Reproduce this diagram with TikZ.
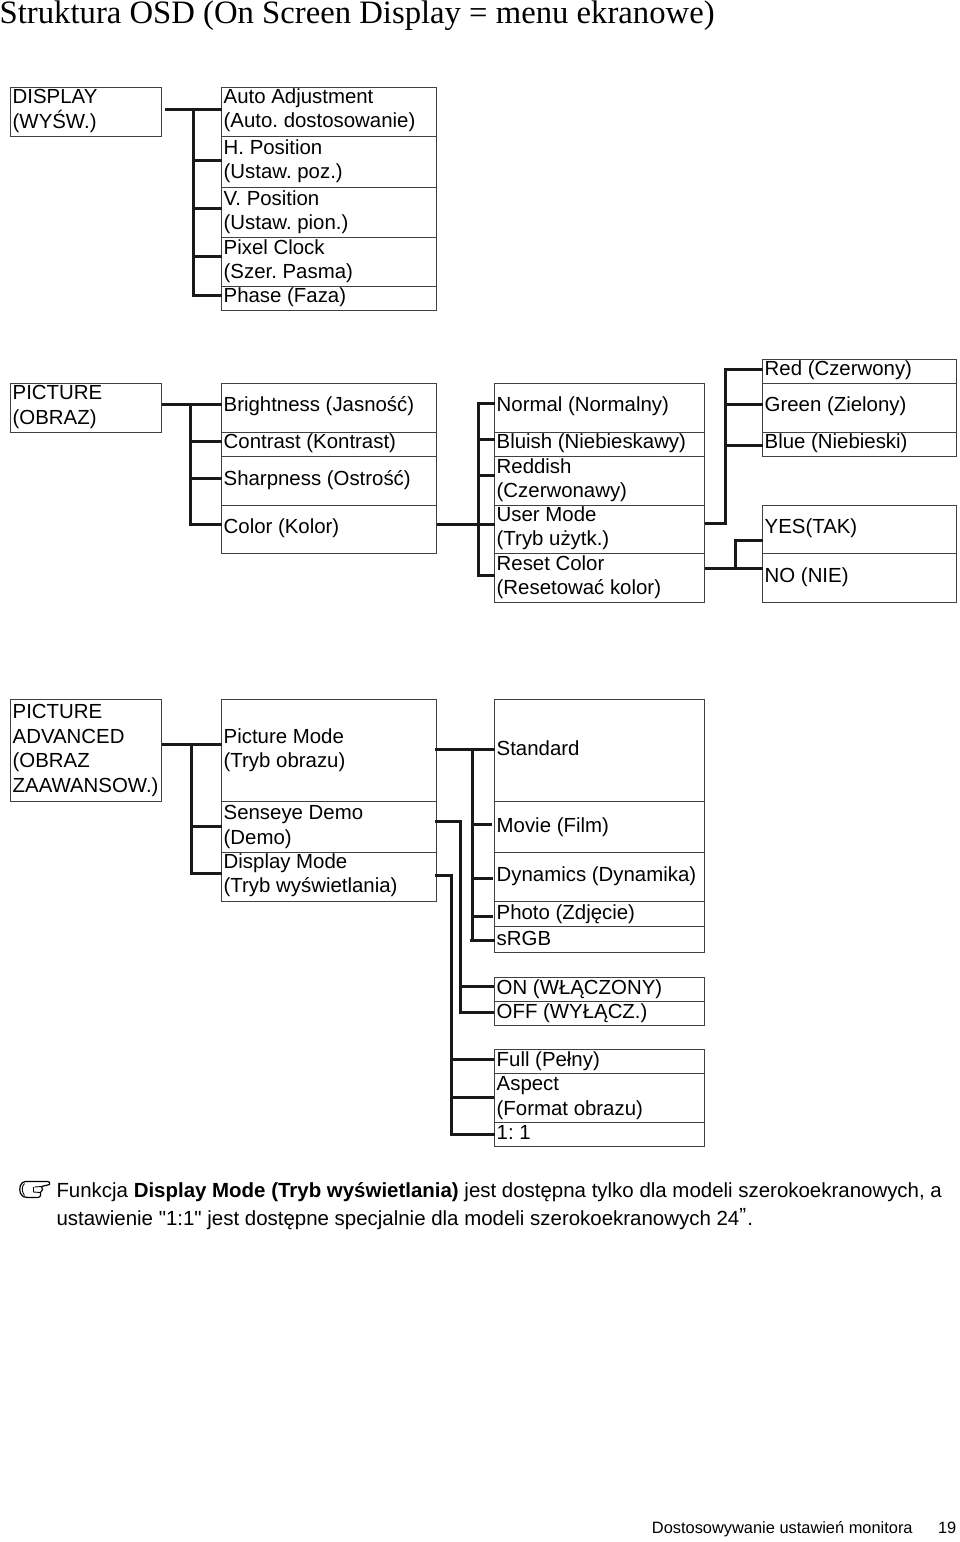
\documentclass[tikz,border=0pt]{standalone}
\usepackage{fontspec}
\setmainfont{Liberation Sans}
\newfontfamily\titlefont{Liberation Serif}
\newfontfamily\plainfont{Liberation Sans}
\frenchspacing
\tikzset{x=1pt,y=-1pt,
 lbl/.style={anchor=west,inner sep=0pt,outer sep=0pt,align=left,font=\fontsize{20.4}{24.4}\selectfont,text=black},
 conn/.style={line width=2.2pt,black!90}}
\newcommand{\cellbox}[7]{% name x1 y1 x2 y2 text shift
 \path[draw=black!75,line width=1pt] (#2,#3) rectangle (#4,#5);
 \node[lbl] (#1) at ({#2+2.2},{(#3+#5)/2+#7}) {#6};}
\begin{document}
\begin{tikzpicture}
\useasboundingbox (0,0) rectangle (960,1542);
\begin{scope}[shift={(-0.5,-0.5)}]
\node[anchor=west,inner sep=0pt,font=\titlefont\fontsize{32.7}{36}\selectfont] (title) at (0,16.5) {Struktura OSD (On Screen Display = menu ekranowe)};
% display
\cellbox{d}{11}{88}{162}{137}{DISPLAY\\(WYŚW.)}{-1}
\cellbox{da}{222}{88}{437}{137}{Auto Adjustment\\(Auto. dostosowanie)}{-2}
\cellbox{db}{222}{137}{437}{187.5}{H. Position\\(Ustaw. poz.)}{-0.5}
\cellbox{dc}{222}{187.5}{437}{238}{V. Position\\(Ustaw. pion.)}{0}
\cellbox{dd}{222}{238}{437}{287}{Pixel Clock\\(Szer. Pasma)}{-1}
\cellbox{de}{222}{287}{437}{311}{Phase (Faza)}{-1}
\draw[conn] (165,110) -- (222,110);
\draw[conn] (194,110) -- (194,296) -- (222,296);
\foreach \y in {161,209,257} \draw[conn] (194,\y) -- (222,\y);
% picture
\cellbox{p}{11}{384}{162}{433}{PICTURE\\(OBRAZ)}{-1}
\cellbox{pa}{222}{384}{437}{433}{Brightness (Jasność)}{-2}
\cellbox{pb}{222}{433}{437}{457}{Contrast (Kontrast)}{-1}
\cellbox{pc}{222}{457}{437}{506}{Sharpness (Ostrość)}{-1}
\cellbox{pd}{222}{506}{437}{554}{Color (Kolor)}{-1}
\draw[conn] (162,405) -- (222,405);
\draw[conn] (191,405) -- (191,525) -- (222,525);
\foreach \y in {442,479} \draw[conn] (191,\y) -- (222,\y);
\cellbox{qa}{495}{384}{705}{433}{Normal (Normalny)}{-2}
\cellbox{qb}{495}{433}{705}{457}{Bluish (Niebieskawy)}{-1}
\cellbox{qc}{495}{457}{705}{506}{Reddish\\(Czerwonawy)}{-1}
\cellbox{qd}{495}{506}{705}{554}{User Mode\\(Tryb użytk.)}{-1}
\cellbox{qe}{495}{554}{705}{603}{Reset Color\\(Resetować kolor)}{-1}
\draw[conn] (437,525) -- (495,525);
\draw[conn] (495,404) -- (479,404) -- (479,576) -- (495,576);
\foreach \y in {440,476} \draw[conn] (479,\y) -- (495,\y);
\cellbox{ra}{763}{360}{957}{384}{Red (Czerwony)}{-1}
\cellbox{rb}{763}{384}{957}{433}{Green (Zielony)}{-2}
\cellbox{rc}{763}{433}{957}{457}{Blue (Niebieski)}{-1}
\cellbox{sa}{763}{506}{957}{554}{YES(TAK)}{-1}
\cellbox{sb}{763}{554}{957}{603}{NO (NIE)}{-1}
\draw[conn] (705,524) -- (726,524) -- (726,370) -- (763,370);
\foreach \y in {405,446} \draw[conn] (726,\y) -- (763,\y);
\draw[conn] (705,569) -- (763,569);
\draw[conn] (736,569) -- (736,541) -- (763,541);
% advanced
\cellbox{a}{11}{700}{162}{802}{PICTURE\\ADVANCED\\(OBRAZ\\ZAAWANSOW.)}{0}
\cellbox{aa}{222}{700}{437}{802}{Picture Mode\\(Tryb obrazu)}{-0.5}
\cellbox{ab}{222}{802}{437}{853}{Senseye Demo\\(Demo)}{0}
\cellbox{ac}{222}{853}{437}{902}{Display Mode\\(Tryb wyświetlania)}{-2}
\cellbox{ba}{495}{700}{705}{802}{Standard}{-2}
\cellbox{bb}{495}{802}{705}{853}{Movie (Film)}{0}
\cellbox{bc}{495}{853}{705}{902}{Dynamics (Dynamika)}{-1}
\cellbox{bd}{495}{902}{705}{927}{Photo (Zdjęcie)}{0}
\cellbox{be}{495}{927}{705}{953}{sRGB}{-1}
\cellbox{ca}{495}{978}{705}{1002}{ON (WŁĄCZONY)}{0}
\cellbox{cb}{495}{1002}{705}{1026}{OFF (WYŁĄCZ.)}{0}
\cellbox{ea}{495}{1050}{705}{1074}{Full (Pełny)}{0}
\cellbox{eb}{495}{1074}{705}{1123}{Aspect\\(Format obrazu)}{0}
\cellbox{ec}{495}{1123}{705}{1147}{1: 1}{-2}
\draw[conn] (162,745) -- (222,745);
\draw[conn] (192,745) -- (192,874) -- (222,874);
\draw[conn] (192,827) -- (222,827);
\draw[conn] (435,750) -- (495,750);
\draw[conn] (473,750) -- (473,941);
\draw[conn] (470,941) -- (495,941);
\draw[conn] (471,825) -- (492,825);
\foreach \y in {879,917} \draw[conn] (473,\y) -- (493,\y);
\draw[conn] (435,822) -- (461,822) -- (461,1013) -- (494,1013);
\draw[conn] (461,987) -- (494,987);
\draw[conn] (435,876) -- (452,876) -- (452,1135) -- (495,1135);
\foreach \y in {1060,1098} \draw[conn] (452,\y) -- (494,\y);
% note
\node[lbl,anchor=west,font=\fontsize{20.45}{28}\selectfont] (note) at (57,1206.5) {Funkcja \textbf{Display Mode (Tryb wyświetlania)} jest dostępna tylko dla modeli szerokoekranowych, a\\ustawienie {\plainfont "1:1"} jest dostępne specjalnie dla modeli szerokoekranowych 24\raisebox{0.3ex}{”}\kern1pt.};
\draw[line width=1.2pt,line join=round] (26,1182) .. controls (21,1182) and (19,1189) .. (21,1194) .. controls (22,1197) and (25,1198) .. (28,1198) -- (38,1198) .. controls (41,1198) and (42,1195) .. (41,1193) -- (43,1190) -- (42,1187) -- (50,1185) .. controls (51,1183) and (50,1182) .. (48,1182) -- cycle;
\draw[line width=0.9pt] (25,1184) .. controls (22,1187) and (22,1192) .. (25,1196);
\draw[line width=0.9pt] (35,1187.5) -- (42,1187) (34,1192.5) -- (41,1193) (34,1187.5) -- (34,1192.5);
\node[anchor=east,inner sep=0pt,font=\fontsize{16.4}{20}\selectfont] (foot) at (957,1530) {Dostosowywanie ustawień monitora\hspace{1.55em}19};
\end{scope}
\end{tikzpicture}
\end{document}
